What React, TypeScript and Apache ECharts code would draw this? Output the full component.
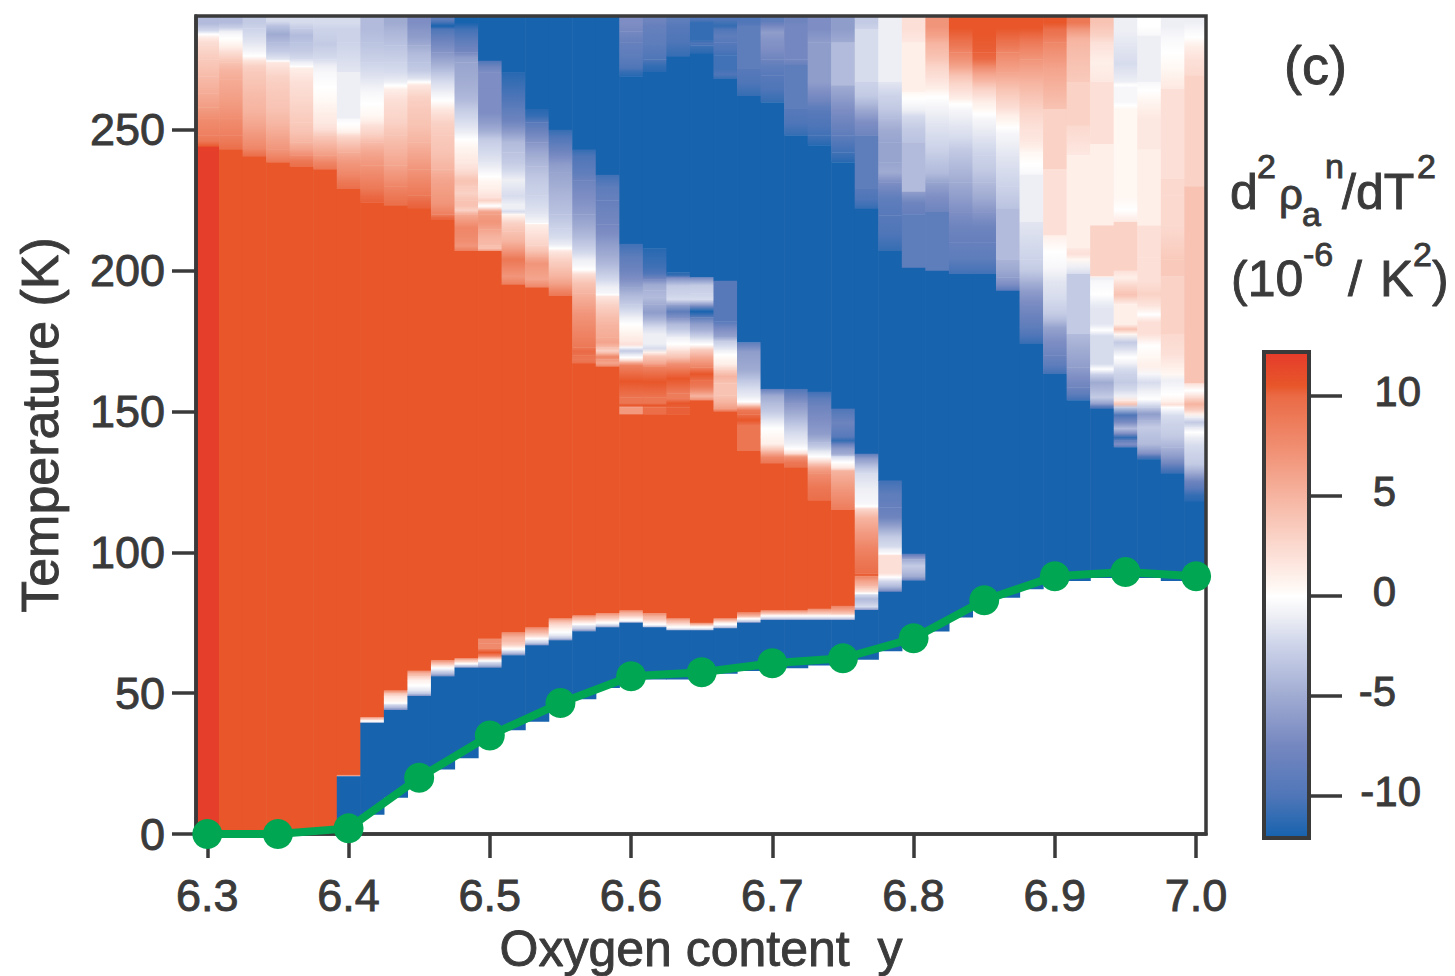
import React, { useEffect, useRef } from "react";
import * as echarts from "echarts";

// Level letters: lowercase negative, uppercase positive, o = zero.
const levelValues: Record<string, number> = {
  l: -12, k: -11, j: -10, i: -9, h: -8, g: -7, f: -6, e: -5, d: -4, c: -3, b: -2, a: -1, o: 0,
  A: 1, B: 2, C: 3, D: 4, E: 5, F: 6, G: 7, H: 8, I: 9, J: 10, K: 10.5, L: 12,
};

// One entry per oxygen column (6.30 -> 7.00, step 1/60): level + lower temperature of the band.
const columnBands = [
  "d285 o283 B280 C275 D269 E263 F258 G254 H248 I244 L0",
  "d286 a284 o281 A278 C274 E268 F260 G254 H248 I243 K0",
  "c286 b281 a277.5 o275 C270.5 D262 E251.5 G243.3 I240.6 K0",
  "b287 e281 c275 o274 C263.5 D251.5 F243 H238.5 K0",
  "b286 d281 c275 a273 o272 B262 C252.7 D245.6 F241 I237 K0",
  "b285.8 c275 a270.5 o259.8 A252.7 B248 E241 H236 K0",
  "b285.8 c281 b270.5 a254 o250.3 A248 D242 G234 I229 K21 F20.5 l3",
  "d281 c274 b268 a263.5 o255 A251.5 C245.6 F237.4 H229 J224.3 K41.5 D40.5 o40 a39.5 l7",
  "e285.8 d280 c274 b267 o264.5 B257.4 C248 E237.4 G230 I223 K51 F50 C49 A47 o46 d44 l13",
  "g285.8 f280 d274 c268 o266 C257.4 D245.6 F236 H226.7 J222 K58 E56 B54.6 o51 c49 l18",
  "i288 l285.8 h277.5 e270.5 b263.5 o257.4 C248 D236 F228 G220 J218 K61.7 E60 o58 d56 l23",
  "l285.8 i277.5 f274 e263.5 d257.4 b249 o244.4 A238.5 B234 D230 C225 E223 C220 H210.6 G207 K62.4 D61 o60 d59 l27",
  "l274.5 h270.5 f264.5 h256 f249 c244.4 b238.5 a235 o232 A226 C224 o222 F220 G214.7 E209 D207 K69.4 E67.7 K66.8 E66 K63 D62 o61 d59 l33",
  "l270.5 k264.5 j257.4 h249 d242 c235 a229.5 b223.6 o222 b220 C214 E207 I201 G195 K71.6 E68 C66.5 o65 d63.5 l37",
  "l257.4 k252.7 h245.6 e237 c226.7 b220 a217 o216.5 B209 D205 G200 F194 K73.4 F71.5 C70 o68.8 c67 l40",
  "l250 j245 h240 f235 e228 d220 c215 b209 o207 C201 E195 H191 K76.6 E75 B73 o70.5 c68.8 l44",
  "l243 j238 i232 g220 e212 c206 a201.8 o199 D192 F184.6 H172.8 J170 I167 K77.6 E76 B75 o74 c72 l48",
  "l234 i225 h216.5 g209.5 e202 c196.4 a192 o191 C184.6 E176.4 F172.8 C170.4 H168.5 F166 K78.4 E76.5 B75.5 o74.5 c73.4 l52",
  "g285 h281 i272 k269 l209.5 i200 g194 d188 b183.4 o178.7 A175 B172.8 c170.4 o168 F166.5 K155 H153 K151.5 C149 K79.4 E77.5 B76.5 o75.5 c75 l54",
  "h287 i275 k270.5 l208 k201 j197 e193 d188 f182.2 b177.5 o174 b171 D168 F166 K155 H153 K151.5 I149 K78.4 E76 B75 o74 c73.4 l55",
  "i287 j276 l199.4 k197.5 c191.7 b188 i183 d179 b176.4 o171.6 D167 K156.5 G154.5 K151.5 J149 K76.6 E75 B74 o73 c72.3 l55",
  "j288 l281.7 j280 k277 l197.6 c192 b187.6 l183.4 f178.7 c175.5 o172.2 F165.7 K161 I157 E154 K75 E74 o73 c72.3 l56",
  "j288 k285.8 i281 j276.4 k271.6 j268 l196.4 g189 l182 g176.4 d175 b171.7 o168.7 A165 E160 C155.7 E151 H150 K76.6 E75.5 B75 o74 c73 l57",
  "j287 i271.6 j262 l174.5 f168 e161.6 b155 o152 I149 K145 H136 K78.7 F77 o76 c75 l58",
  "i287 f282.3 g275 i269.3 j259.8 l158 e153 c147 o141 A136 H131.5 K79.4 E78 o77 c76 l58",
  "h287 g275 h273 i257.4 j248 l158 h153 e146 b138.5 o135 E134 I130 K79.4 E78 o77 c76 l59",
  "g281 e267 g260 i256 j248 k244.5 l157 i152 g142 e139 c136 o132 F128 I118.5 K80 E78 o77 c76 l60",
  "f281 d265.7 f257.4 h248 j242 k238.5 l151 h141 k138.5 f135 d134 o130 C129 G115 K81 F78 o77 c76 l60",
  "c285.8 b267 c257.4 g248 i229 j222 l135 f131.5 c128 a117.3 o115.5 E109 G102 I92.5 K91.5 F88 C86 o85 d82 b79.5 l62",
  "a267 b262 c254 e245.6 f238.5 e231.4 i219.6 j207 l125.5 i116 h109 c102 a100 o99 D92.5 o90 d86 l65",
  "B281 A263.5 o259 a255 c245.6 d228 h220 i201 l99.5 g97.5 c93 e90 l67",
  "G283 E278.7 D273 B264.5 o259 a252.7 b243.3 c238 d231.4 g220.8 i200 l72",
  "K282 I277.5 G271.6 D267 B261 o257.4 a251.5 b243.3 d231.4 f220.8 h210 i198.8 l77",
  "K277.5 J272.8 F267 C262 A257.4 o254 a248 b241 c231.4 e220.8 h210 i198.8 l81",
  "K282 I277.5 G270.5 E264.5 C257.4 A252.7 o249 a241 b230 c222 d204 e197.6 g192.9 l84",
  "K282 H275 F267 D257.4 B245.6 A242 o234 a217.3 b204 c196.4 f189.3 h180 j174 l87",
  "K285.8 I281 G271.6 E257.4 C236 B212.5 o201 a196.4 b184.6 d180 g170 i163.3 l89",
  "I285.8 E278.7 D267 C251.5 B241 A208 B204 a198.8 c177.5 e165.7 g158.6 i154 l90",
  "D285.8 C281 A267 B245 A216 C198 a196.4 o187 c181 o176.9 d166.9 o163.3 e157.4 c152.7 i151 l91",
  "a280 b267 o265 a260 o257.4 A245.6 o234 A226 o217.3 C200 A195 D188 b181 D177.5 c171.6 o166.9 b163.3 c157.4 a153.9 D151.5 j146 d142 k139.7 g137.3 l91",
  "o283.4 a267 o261 A254 B243 A216 C204.7 A196.4 C187 o182 D177.5 o169.2 A163.3 b157.4 o151.5 f146.8 c142 d135 j133 l91",
  "a283.4 o271.6 A264.5 B232.6 C226.7 B216 C204 D198 C177.5 B163.3 a158.6 o153.5 B151.5 b145.6 c137.3 f131.4 j127.9 l90",
  "a285.8 o280 B269.3 C230 D160 o155 E150.3 A148 c144.4 o141 b135 c127.9 h122.5 k118 l89",
];

const lineOxygen = [6.3, 6.35, 6.4, 6.45, 6.5, 6.55, 6.6, 6.65, 6.7, 6.75, 6.8, 6.85, 6.9, 6.95, 7.0];
const lineTc = [0, 0, 2, 20, 35, 46.5, 56, 57.4, 60.6, 62.4, 69.5, 83, 91.5, 93, 91.5];

const xTicks = [6.3, 6.4, 6.5, 6.6, 6.7, 6.8, 6.9, 7.0];
const yTicks = [0, 50, 100, 150, 200, 250];
const barTicks = [-10, -5, 0, 5, 10];

const colorStops: [number, string][] = [
  [-12, "#1863ae"], [-10, "#4f76b8"], [-7.5, "#7587c0"], [-5, "#a0abd2"], [-2.5, "#ccd3e9"],
  [-1, "#eeeff5"], [0, "#ffffff"], [0.4, "#fff8f4"], [2.5, "#fbd9cf"], [5, "#f6b4a0"],
  [7.5, "#f08d70"], [10, "#ea6a45"], [10.5, "#e8562a"], [12.2, "#e53b2b"],
];

const INK = "#3a3a3a";
const FONT = '"Liberation Sans", Arial, sans-serif';
const HEAVY = { textBorderColor: INK, textBorderWidth: 0.9 };
const X_MIN = 6.292, X_MAX = 7.007, Y_MAX = 290.4, BAR_MIN = -12.1, BAR_MAX = 12.2;
const SOFT_BAND = 15; // bands thinner than this (K) blend into their neighbours when painted

function hex(c: string) { return [1, 3, 5].map((i) => parseInt(c.slice(i, i + 2), 16)); }
function colorOf(v: number) {
  for (let i = 1; i < colorStops.length; i++) {
    const [v1, c1] = colorStops[i];
    const [v0, c0] = colorStops[i - 1];
    if (v <= v1) {
      const t = (v - v0) / (v1 - v0);
      const a = hex(c0), b = hex(c1);
      return `rgb(${a.map((x, k) => Math.round(x + (b[k] - x) * t)).join(",")})`;
    }
  }
  return colorStops[colorStops.length - 1][1];
}

const cells: number[][] = [];
columnBands.forEach((col, i) => {
  const bands = [...col.matchAll(/([a-zA-Z])([\d.]+)/g)].map((m) => [levelValues[m[1]], parseFloat(m[2])]);
  let top = Y_MAX;
  bands.forEach(([v, bottom], k) => {
    const soft = top - bottom < SOFT_BAND;
    const above = soft && k > 0 ? (v + bands[k - 1][0]) / 2 : v;
    const below = soft && k < bands.length - 1 ? (v + bands[k + 1][0]) / 2 : v;
    cells.push([6.3 + i / 60, top, bottom, v, above, below]);
    top = bottom;
  });
});

const annotations: [string, number, number, number][] = [
  ["(c)", 1284, 84, 54],
  ["d", 1230, 210, 50], ["2", 1257, 178, 34], ["ρ", 1279, 210, 42], ["a", 1302, 226, 34],
  ["n", 1325, 178, 34], ["/dT", 1342, 210, 50], ["2", 1417, 178, 34],
  ["(10", 1231, 297, 50], ["-6", 1303, 266, 34], ["/", 1348, 297, 50], ["K", 1380, 297, 50],
  ["2", 1413, 266, 34], [")", 1432, 297, 50],
];

export default function App() {
  const ref = useRef<HTMLDivElement>(null);
  useEffect(() => {
    const chart = echarts.init(ref.current!, undefined, { renderer: "svg" });
    chart.setOption({
      animation: false,
      grid: [
        { left: 196, top: 16, width: 1010, height: 818, outerBoundsMode: "none" },
        { left: 1264, top: 352, width: 45, height: 486, outerBoundsMode: "none" },
      ],
      xAxis: [
        {
          type: "value", gridIndex: 0, min: X_MIN, max: X_MAX, z: 6,
          name: "Oxygen content  y", nameLocation: "middle", nameGap: 90,
          nameTextStyle: { fontFamily: FONT, fontSize: 50, color: INK, ...HEAVY },
          splitLine: { show: false },
          axisLine: { onZero: false, lineStyle: { color: INK, width: 3.5 } },
          axisTick: { length: 24, lineStyle: { color: INK, width: 3.5 }, customValues: xTicks },
          axisLabel: {
            customValues: xTicks, margin: 39, fontFamily: FONT, fontSize: 45, color: INK, ...HEAVY,
            formatter: (v: number) => v.toFixed(1),
          },
        },
        { type: "value", gridIndex: 1, min: 0, max: 1, show: false },
      ],
      yAxis: [
        {
          type: "value", gridIndex: 0, min: 0, max: Y_MAX, z: 6,
          name: "Temperature (K)", nameLocation: "middle", nameGap: 130,
          nameTextStyle: { fontFamily: FONT, fontSize: 52, color: INK, ...HEAVY },
          splitLine: { show: false },
          axisLine: { show: true, onZero: false, lineStyle: { color: INK, width: 3.5 } },
          axisTick: { show: true, length: 24, lineStyle: { color: INK, width: 3.5 }, customValues: yTicks },
          axisLabel: { customValues: yTicks, margin: 31, fontFamily: FONT, fontSize: 45, color: INK, ...HEAVY },
        },
        {
          type: "value", gridIndex: 1, position: "right", min: BAR_MIN, max: BAR_MAX, z: 6,
          splitLine: { show: false },
          axisLine: { show: false, onZero: false },
          axisTick: { show: true, length: 33, lineStyle: { color: INK, width: 3.5 }, customValues: barTicks },
          axisLabel: {
            customValues: barTicks, margin: 112, align: "right", color: INK,
            fontFamily: FONT, fontSize: 42,
            formatter: (v: number) => (Math.abs(v) === 10 ? `{w|${v}}` : `{n|${v}}`),
            rich: {
              w: { fontFamily: FONT, fontSize: 42, color: INK, padding: [0, 0, 9, 0], ...HEAVY },
              n: { fontFamily: FONT, fontSize: 42, color: INK, padding: [0, 25, 9, 0], ...HEAVY },
            },
          },
        },
      ],
      series: [
        {
          type: "custom", xAxisIndex: 0, yAxisIndex: 0, clip: true, z: 2,
          data: cells, encode: { x: 0, y: 1 },
          renderItem: (_: any, api: any) => {
            const c = api.value(0), half = 1 / 120;
            const p0 = api.coord([c - half, api.value(1)]);
            const p1 = api.coord([c + half, api.value(2)]);
            const above = api.value(4), below = api.value(5);
            const fill = above === below
              ? colorOf(above)
              : new echarts.graphic.LinearGradient(0, 0, 0, 1, [
                  { offset: 0, color: colorOf(above) },
                  { offset: 0.5, color: colorOf(api.value(3)) },
                  { offset: 1, color: colorOf(below) },
                ]);
            return {
              type: "rect",
              shape: { x: p0[0], y: p0[1], width: p1[0] - p0[0] + 0.6, height: p1[1] - p0[1] + 0.4 },
              style: { fill, stroke: "none" },
            };
          },
        },
        {
          type: "custom", xAxisIndex: 1, yAxisIndex: 1, clip: true, z: 2,
          data: [[0, BAR_MAX, 1, BAR_MIN]], encode: { x: 0, y: 1 },
          renderItem: (_: any, api: any) => {
            const p0 = api.coord([api.value(0), api.value(1)]);
            const p1 = api.coord([api.value(2), api.value(3)]);
            const span = BAR_MAX - BAR_MIN;
            return {
              type: "rect",
              shape: { x: p0[0], y: p0[1], width: p1[0] - p0[0], height: p1[1] - p0[1] },
              style: {
                fill: new echarts.graphic.LinearGradient(0, 0, 0, 1,
                  colorStops.slice().reverse().map(([v, color]) => ({
                    offset: Math.min(1, Math.max(0, (BAR_MAX - v) / span)), color,
                  }))),
              },
            };
          },
        },
        {
          type: "line", xAxisIndex: 0, yAxisIndex: 0, z: 10, clip: false,
          data: lineOxygen.map((x, i) => [x, lineTc[i]]),
          symbol: "circle", symbolSize: 30,
          lineStyle: { color: "#00a651", width: 8 },
          itemStyle: { color: "#00a651" },
        },
      ],
      graphic: [
        {
          type: "rect", z: 5, silent: true,
          shape: { x: 196, y: 16, width: 1010, height: 818 },
          style: { fill: "none", stroke: INK, lineWidth: 3.5 },
        },
        {
          type: "rect", z: 5, silent: true,
          shape: { x: 1264, y: 352, width: 45, height: 486 },
          style: { fill: "none", stroke: INK, lineWidth: 4 },
        },
        ...annotations.map(([text, x, base, size]) => ({
          type: "text", z: 7, silent: true, x, y: base + size * 0.14,
          style: { text, font: `${size}px ${FONT}`, fill: INK, stroke: INK, lineWidth: 0.9, textAlign: "left", textVerticalAlign: "bottom" },
        })),
      ],
    });
    return () => chart.dispose();
  }, []);
  return <div ref={ref} style={{ position: "absolute", left: 0, top: 0, width: 1455, height: 976, background: "#fff" }} />;
}
